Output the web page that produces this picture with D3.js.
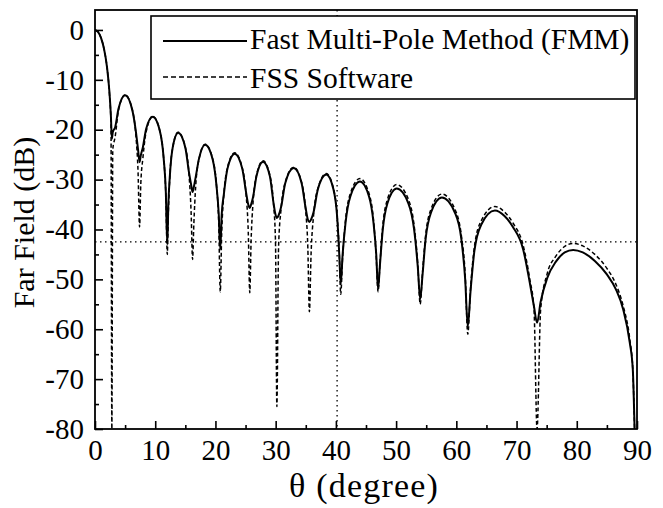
<!DOCTYPE html>
<html>
<head>
<meta charset="utf-8">
<script src="https://cdn.jsdelivr.net/npm/d3@7"></script>
<style>
  body { margin: 0; background: #fff; }
  svg { display: block; }
  text { font-family: "Liberation Serif", "Times New Roman", serif; fill: #000; }
</style>
</head>
<body>
<svg id="chart" width="663" height="508"></svg>
<script>
// angle grid (degree), both curves share it
const theta = [
  0, 0.5, 1.0, 1.5, 2.0, 2.4, 2.65,
  2.8,
  2.95, 3.35, 3.9, 5.0, 6.2, 6.8, 7.15,
  7.4,
  7.6, 7.95, 8.5, 9.6, 10.8, 11.4, 11.76,
  12.0,
  12.18, 12.45, 12.9, 13.8, 15.0, 15.6, 15.96,
  16.2,
  16.41, 16.72, 17.25, 18.3, 19.55, 20.18, 20.55,
  20.8,
  21.04, 21.4, 22.0, 23.2, 24.45, 25.08, 25.45,
  25.7,
  25.92, 26.25, 26.8, 27.9, 29.05, 29.62, 29.97,
  30.2,
  30.48, 30.9, 31.6, 33.0, 34.3, 34.95, 35.34,
  35.6,
  35.88, 36.3, 37.0, 38.4, 39.6, 40.2, 40.56,
  40.8,
  41.12, 41.6, 42.4, 44.0, 45.5, 46.25, 46.7,
  47.0,
  47.31, 47.78, 48.55, 50.1, 52.05, 53.0, 53.6,
  54.0,
  54.36, 54.9, 55.8, 57.6, 59.75, 60.83, 61.47,
  61.9,
  62.35, 63.0, 64.15, 66.4, 68.0, 69.4, 71.1, 72.2, 72.9,
  73.4,
  74.0, 75.1, 76.5, 78.0, 79.4, 81.0, 83.0, 85.0, 86.5, 87.7, 88.8, 89.3,
  89.6
];

// Fast Multi-Pole Method (solid)
const fmmDb = [
  0, -0.4, -1.6, -3.8, -7.5, -12.5, -17.5,
  -21.8,
  -20.5, -19.5, -15.8, -13.1, -16.1, -20.5, -24,
  -26.5,
  -25.2, -23.5, -19.8, -17.4, -20.4, -25.7, -32.5,
  -43,
  -35, -28.9, -23.6, -20.6, -23.6, -28.5, -31,
  -32.5,
  -31.5, -29.5, -25.9, -23.0, -26.0, -31.3, -37,
  -44,
  -37, -32.9, -27.8, -24.8, -27.8, -32.5, -35,
  -35.7,
  -35, -33.5, -29.4, -26.4, -29.4, -34.5, -37,
  -37.7,
  -37.2, -35.5, -30.7, -27.7, -30.7, -35.5, -38,
  -38.5,
  -38, -36.5, -32, -29.0, -32, -37.3, -45,
  -51,
  -45, -38.7, -33.4, -30.4, -33.4, -38.7, -45,
  -52,
  -47.2, -40.1, -34.8, -31.8, -34.8, -40.1, -47.5,
  -54,
  -49.5, -41.9, -36.6, -33.6, -36.6, -41.9, -50,
  -59.5,
  -52.5, -44.3, -39.0, -36.2, -37.3, -39.5, -44.0, -50.7, -55.5,
  -58.7,
  -54.5, -49.7, -46.5, -44.6, -44.1, -44.6, -46.3, -49, -52, -56, -62.7, -68,
  -80
];

// FSS Software (dashed), deeper nulls
const fssDb = [
  0, -0.4, -1.6, -3.8, -7.5, -12.8, -18.5,
  -80,
  -24, -21.4, -16.1, -13.0, -16.0, -21.3, -28.5,
  -39.5,
  -31, -25.7, -20.4, -17.3, -20.4, -25.7, -33,
  -45,
  -36.7, -28.9, -23.6, -20.5, -23.5, -28.8, -36.6,
  -46,
  -39, -31.3, -26, -22.9, -25.9, -31.2, -39,
  -52.5,
  -40.7, -32.9, -27.6, -24.6, -27.6, -32.9, -40.5,
  -52.7,
  -42.3, -34.5, -29.2, -26.2, -29.2, -34.5, -42.3,
  -75.5,
  -43.6, -35.8, -30.5, -27.5, -30.5, -35.8, -43.6,
  -56.5,
  -44.9, -37.1, -31.8, -28.8, -31.8, -37.1, -44.5,
  -53,
  -45.5, -38.1, -32.8, -29.8, -32.8, -38.1, -45.5,
  -52.5,
  -47, -39.3, -34, -31, -34, -39.3, -47,
  -55,
  -49, -41.2, -35.9, -32.9, -35.9, -41.2, -49,
  -61,
  -52, -43.5, -38.2, -35.4, -36.5, -38.7, -43.2, -50, -56,
  -80,
  -56, -48.8, -45.4, -43.4, -42.8, -43.3, -45, -47.8, -51, -55.3, -62, -68,
  -80
];

const xTicks = [0, 10, 20, 30, 40, 50, 60, 70, 80, 90];
const yTicks = [0, -10, -20, -30, -40, -50, -60, -70, -80];
const seriesNames = ['Fast Multi-Pole Method (FMM)', 'FSS Software'];

// dotted marker lines
const refLevel = -42.5;
const refAngle = 40.2;

const svg = d3.select('#chart');

const x = d3.scaleLinear().domain([0, 90]).range([95, 637]);
const y = d3.scaleLinear().domain([-80, 4]).range([429, 10]);

svg.append('clipPath').attr('id', 'plotclip')
  .append('rect')
    .attr('x', x(0)).attr('y', y(4))
    .attr('width', x(90) - x(0)).attr('height', y(-80) - y(4));

// reference lines first so the curves sit on top
svg.append('line')
  .attr('x1', x(0)).attr('x2', x(90))
  .attr('y1', y(refLevel)).attr('y2', y(refLevel))
  .attr('stroke', '#000').attr('stroke-width', 1.3)
  .attr('stroke-dasharray', '1.5,3.5');
svg.append('line')
  .attr('x1', x(refAngle)).attr('x2', x(refAngle))
  .attr('y1', y(4)).attr('y2', y(-80))
  .attr('stroke', '#000').attr('stroke-width', 1.3)
  .attr('stroke-dasharray', '1.5,3.5');

const line = d3.line()
  .x(d => x(d[0]))
  .y(d => y(d[1]))
  .curve(d3.curveMonotoneX);

const curves = svg.append('g').attr('clip-path', 'url(#plotclip)');

curves.append('path')
  .datum(theta.map((t, i) => [t, fssDb[i]]))
  .attr('fill', 'none')
  .attr('stroke', '#000')
  .attr('stroke-width', 1.5)
  .attr('stroke-dasharray', '4,2.5')
  .attr('d', line);

curves.append('path')
  .datum(theta.map((t, i) => [t, fmmDb[i]]))
  .attr('fill', 'none')
  .attr('stroke', '#000')
  .attr('stroke-width', 2)
  .attr('d', line);

// axes, ticks point inward
const fmt = d => String(d);

svg.append('g')
  .attr('transform', 'translate(0,' + y(-80) + ')')
  .call(d3.axisBottom(x).tickValues(xTicks).tickFormat(fmt)
    .tickSizeInner(-8).tickSizeOuter(0).tickPadding(10));

svg.append('g')
  .attr('transform', 'translate(0,' + y(-80) + ')')
  .call(d3.axisBottom(x).tickValues(d3.range(5, 90, 10)).tickFormat('')
    .tickSizeInner(-4).tickSizeOuter(0));

svg.append('g')
  .attr('transform', 'translate(' + x(0) + ',0)')
  .call(d3.axisLeft(y).tickValues(yTicks).tickFormat(fmt)
    .tickSizeInner(-8).tickSizeOuter(0).tickPadding(11));

svg.append('g')
  .attr('transform', 'translate(' + x(0) + ',0)')
  .call(d3.axisLeft(y).tickValues(d3.range(-75, 0, 10)).tickFormat('')
    .tickSizeInner(-4).tickSizeOuter(0));

svg.selectAll('.tick line').attr('stroke', '#000').attr('stroke-width', 1.6);
svg.selectAll('.domain').remove();
svg.selectAll('.tick text')
  .attr('font-family', '"Liberation Serif", serif')
  .attr('font-size', 29)
  .attr('fill', '#000');

// frame box
svg.append('rect')
  .attr('x', x(0)).attr('y', y(4))
  .attr('width', x(90) - x(0)).attr('height', y(-80) - y(4))
  .attr('fill', 'none').attr('stroke', '#000').attr('stroke-width', 1.8);

// axis titles
svg.append('text')
  .attr('x', (x(0) + x(90)) / 2 - 2).attr('y', 497)
  .attr('text-anchor', 'middle')
  .attr('font-size', 34)
  .attr('letter-spacing', 1.2)
  .text('\u03b8 (degree)');

svg.append('text')
  .attr('transform', 'translate(34,' + ((y(4) + y(-80)) / 2 + 3) + ') rotate(-90)')
  .attr('text-anchor', 'middle')
  .attr('font-size', 30)
  .text('Far Field (dB)');

// legend
const legend = svg.append('g');
legend.append('rect')
  .attr('x', 151).attr('y', 16).attr('width', 484).attr('height', 83)
  .attr('fill', '#fff').attr('stroke', '#000').attr('stroke-width', 1.6);

const rows = [
  { name: seriesNames[0], dash: null, width: 2, ly: 41, ty: 49 },
  { name: seriesNames[1], dash: '5,3', width: 1.6, ly: 77, ty: 88 }
];
rows.forEach(r => {
  legend.append('line')
    .attr('x1', 163).attr('x2', 247).attr('y1', r.ly).attr('y2', r.ly)
    .attr('stroke', '#000').attr('stroke-width', r.width)
    .attr('stroke-dasharray', r.dash);
  legend.append('text')
    .attr('x', 250).attr('y', r.ty)
    .attr('font-size', 29.5)
    .text(r.name);
});
</script>
</body>
</html>
